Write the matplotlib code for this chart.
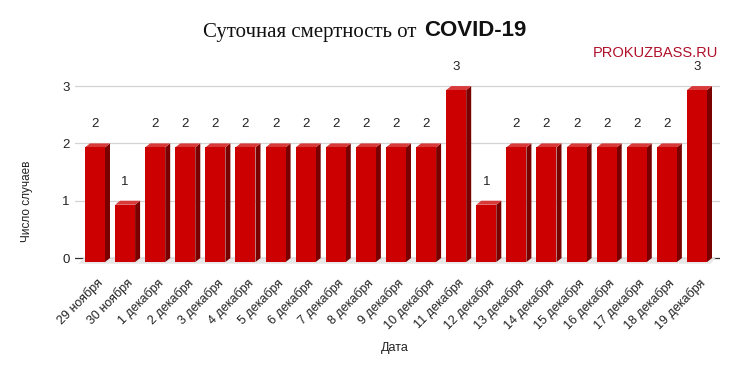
import matplotlib.pyplot as plt
from matplotlib.patches import Polygon

# data
dates = ['29 ноября', '30 ноября', '1 декабря', '2 декабря', '3 декабря', '4 декабря',
         '5 декабря', '6 декабря', '7 декабря', '8 декабря', '9 декабря', '10 декабря',
         '11 декабря', '12 декабря', '13 декабря', '14 декабря', '15 декабря', '16 декабря',
         '17 декабря', '18 декабря', '19 декабря']
deaths = [2, 1, 2, 2, 2, 2, 2, 2, 2, 2, 2, 2, 3, 1, 2, 2, 2, 2, 2, 2, 3]
y_ticks = [0, 1, 2, 3]

plt.rcParams['font.family'] = ['Liberation Sans', 'DejaVu Sans']

fig = plt.figure(figsize=(7.38, 3.74), dpi=100)
ax = fig.add_axes([0.1016, 0.287, 0.874, 0.5595])

n = len(deaths)
step = (687 - 85) / (n - 1)     # px per bar slot
w = 20 / step                   # front face width
dx = 5 / step                   # depth offset x
dy = 4 / 57.33                  # depth offset y
front = '#cc0000'
side = '#7a0000'
top = '#d83a3a'

ax.set_xlim(-(95 - 75) / step, (720 - 95) / step)
ax.set_ylim(-0.15, 3.5)

for g in y_ticks[1:]:
    ax.axhline(g, color='#d4d4d4', lw=0.9, zorder=0)
ax.axhline(0, color='#333333', lw=0.9, zorder=0)
# light floor under the bars
ax.add_patch(Polygon([(-0.55, -dy - 0.03), (n - 0.55, -dy - 0.03), (n - 0.55 + dx, 0), (-0.55 + dx, 0)],
                     closed=True, fc='#e8e8e8', ec='none', zorder=0.5))

for i, v in enumerate(deaths):
    x0, x1 = i - w / 2, i + w / 2
    ax.add_patch(Polygon([(x1, -dy), (x1 + dx, 0), (x1 + dx, v), (x1, v - dy)],
                         closed=True, fc=side, ec='none', zorder=2))
    ax.add_patch(Polygon([(x0, v - dy), (x1, v - dy), (x1 + dx, v), (x0 + dx, v)],
                         closed=True, fc=top, ec='none', zorder=2))
    ax.add_patch(Polygon([(x0, -dy), (x1, -dy), (x1, v - dy), (x0, v - dy)],
                         closed=True, fc=front, ec='none', zorder=3))
    ax.text(i, v + 0.33, str(v), ha='center', va='center', fontsize=9.5, color='#222222')

for s in ax.spines.values():
    s.set_visible(False)
ax.set_yticks(y_ticks)
ax.set_yticklabels([str(t) for t in y_ticks], fontsize=9.5, color='#222222')
ax.tick_params(axis='y', length=0, pad=4)
ax.set_xticks([i + 0.05 for i in range(n)])
ax.set_xticklabels(dates, rotation=45, ha='right', rotation_mode='anchor', fontsize=9, color='#222222')
ax.tick_params(axis='x', length=0, pad=7)

fig.text(27 / 738, 1 - 201 / 374, 'Число случаев', rotation=90, ha='center', va='center',
         fontsize=8.5, color='#222222')
fig.text(395 / 738, 1 - 348 / 374, 'Дата', ha='center', va='center', fontsize=9, color='#222222')

fig.text(416 / 738, 1 - 32 / 374, 'Суточная смертность от', ha='right', va='center',
         fontsize=15, family=['Liberation Serif', 'DejaVu Serif'], color='#111111')
fig.text(424 / 738, 1 - 31 / 374, 'COVID-19', ha='left', va='center',
         fontsize=16, fontweight='bold', color='#111111')
fig.text(718 / 738, 1 - 53 / 374, 'PROKUZBASS.RU', ha='right', va='center',
         fontsize=10.5, color='#b0102a')

fig.savefig('out.png', dpi=100)
